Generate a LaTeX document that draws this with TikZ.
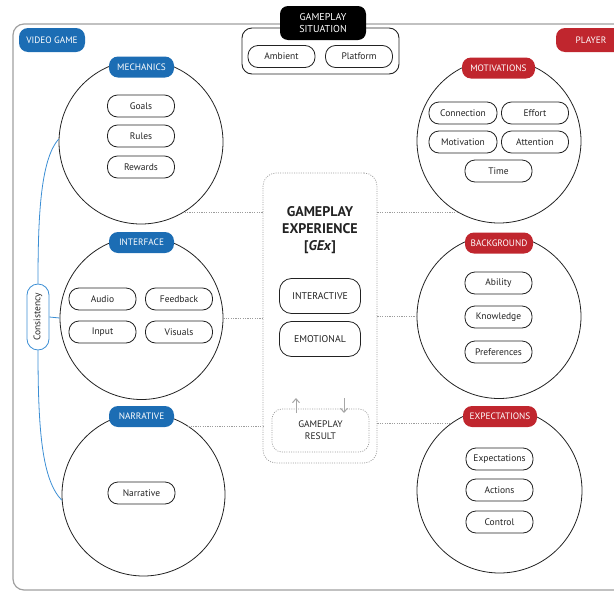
\documentclass[tikz,border=0pt]{standalone}
\usepackage{fontspec}
\setmainfont{PT Sans}
\usetikzlibrary{arrows.meta}
\definecolor{vgblue}{HTML}{1C6DB4}
\definecolor{plred}{HTML}{C0262E}
\definecolor{cblue}{HTML}{3B8ED4}
\definecolor{frame}{HTML}{A0A0A0}
\definecolor{dline}{HTML}{9C9C9C}
\definecolor{ink}{HTML}{222222}
\tikzset{
  circ/.style={circle, draw=ink, line width=0.8pt, minimum size=164pt, inner sep=0pt},
  item/.style={draw=ink, line width=0.8pt, rounded corners=10pt, minimum width=67pt, minimum height=22pt, inner sep=0pt, text=ink, font=\fontsize{9.5}{11}\selectfont},
  lab/.style={rounded corners=9pt, minimum width=65pt, minimum height=21pt, inner sep=0pt, text=white, font=\fontsize{9.3}{11}\selectfont},
  bluelab/.style={lab, fill=vgblue},
  redlab/.style={lab, fill=plred},
  dline/.style={draw=dline, line width=0.6pt, dash pattern=on 1.2pt off 1.2pt},
  cline/.style={draw=cblue, line width=0.8pt},
  bigpill/.style={draw=ink, line width=0.8pt, rounded corners=12pt, minimum width=81pt, minimum height=35pt, inner sep=0pt, text=ink, font=\fontsize{9.8}{11}\selectfont},
  garrow/.style={draw=gray!70, line width=1pt, -{Straight Barb[length=4pt,width=7pt]}}
}
\begin{document}
\begin{tikzpicture}[x=1pt,y=-1pt]
\useasboundingbox (0,0) rectangle (614,592);
\clip (0,0) rectangle (614,592);
% outer frame
\draw[frame, line width=1.2pt, rounded corners=11pt] (13,24) rectangle (640,590);
\node[bluelab, minimum width=66pt, minimum height=24pt] (vg) at (52,40) {VIDEO GAME};
\node[redlab, minimum width=70pt, minimum height=24pt] (pl) at (591,40) {PLAYER};
% gameplay situation
\node[draw=ink, line width=0.9pt, rounded corners=10pt, minimum width=157pt, minimum height=46pt] (sitbox) at (320.5,51) {};
\node[fill=black, text=white, rounded corners=8pt, minimum width=86pt, minimum height=34pt, inner sep=0pt, align=center, font=\fontsize{10}{12}\selectfont] (sit) at (323,23) {GAMEPLAY\\SITUATION};
\node[item] (amb) at (281.5,56.5) {Ambient};
\node[item] (plat) at (359,56.5) {Platform};
% left circles
\node[circ] (mech) at (141,142) {};
\node[circ, minimum size=163pt] (inter) at (141.5,318) {};
\node[circ, minimum size=163pt] (narr) at (143.5,494.5) {};
\node[bluelab] (mechl) at (141.5,67) {MECHANICS};
\node[bluelab] (interl) at (141.5,242.5) {INTERFACE};
\node[bluelab] (narrl) at (141.5,416.5) {NARRATIVE};
\node[item] (goals) at (141,106) {Goals};
\node[item] (rules) at (141,136) {Rules};
\node[item] (rew) at (141,167) {Rewards};
\node[item] (audio) at (102.5,299) {Audio};
\node[item] (feed) at (179,299) {Feedback};
\node[item] (input) at (102.5,332) {Input};
\node[item] (vis) at (179,332) {Visuals};
\node[item] (narrt) at (141.5,493) {Narrative};
% consistency
\node[draw=cblue, line width=0.8pt, rounded corners=11pt, minimum width=66pt, minimum height=22pt, inner sep=0pt, rotate=90, text=ink, font=\fontsize{9.5}{11}\selectfont] (cons) at (38,317) {Consistency};
\draw[cline] (cons.east) .. controls (38,220) and (40,160) .. (mech.178);
\draw[cline] (cons.west) .. controls (38,430) and (42,480) .. (narr.184);
\draw[cline] (cons.south) -- (inter.west);
% right circles
\node[circ] (mot) at (499,141) {};
\node[circ] (bg) at (499,316.5) {};
\node[circ, minimum size=165pt] (exp) at (499.5,490.5) {};
\node[redlab, minimum width=73pt] (motl) at (498.5,68) {MOTIVATIONS};
\node[redlab, minimum width=68pt] (bgl) at (499,243) {BACKGROUND};
\node[redlab, minimum width=74pt] (expl) at (500,416.5) {EXPECTATIONS};
\node[item, minimum width=68pt] (conn) at (463,113) {Connection};
\node[item] (eff) at (535,113) {Effort};
\node[item, minimum width=68pt] (motv) at (463,142) {Motivation};
\node[item] (att) at (535,142) {Attention};
\node[item] (time) at (498.5,171) {Time};
\node[item] (abil) at (498.5,283) {Ability};
\node[item] (know) at (498.5,317) {Knowledge};
\node[item] (pref) at (498.5,352) {Preferences};
\node[item] (expt) at (499.5,459) {Expectations};
\node[item] (act) at (499.5,490) {Actions};
\node[item] (ctrl) at (499.5,522) {Control};
% gameplay experience
\node[draw=dline, line width=0.7pt, dash pattern=on 1pt off 1.3pt, rounded corners=13pt, minimum width=114pt, minimum height=290pt] (gex) at (320,318) {};
\node[align=center, text=ink, font=\bfseries\fontsize{14}{17}\selectfont] (gext) at (320,230) {GAMEPLAY\\EXPERIENCE\\{[}\textit{GEx}{]}};
\node[bigpill] (ia) at (320,296) {INTERACTIVE};
\node[bigpill] (emo) at (320,339) {EMOTIONAL};
\node[draw=dline, line width=0.7pt, dash pattern=on 1pt off 1.3pt, rounded corners=10pt, minimum width=97pt, minimum height=43pt, align=center, text=ink, font=\fontsize{9.5}{12}\selectfont] (res) at (320.5,430.5) {GAMEPLAY\\RESULT};
\coordinate (upS) at (296,413);
\coordinate (upE) at (296,398);
\coordinate (dnS) at (344,398);
\coordinate (dnE) at (344,413);
\draw[garrow] (upS) -- (upE);
\draw[garrow] (dnS) -- (dnE);
% dashed connectors
\draw[dline] (mech.-58.6) -- (mech.-58.6 -| gex.west);
\draw[dline] (gex.east |- mot.240) -- (mot.240);
\draw[dline] (inter.east) -- (inter.east -| gex.west);
\draw[dline] (gex.east |- bg.west) -- (bg.west);
\draw[dline] (narr.57) -- (narr.57 -| gex.west);
\draw[dline] (gex.east |- exp.126) -- (exp.126);
\end{tikzpicture}
\end{document}
